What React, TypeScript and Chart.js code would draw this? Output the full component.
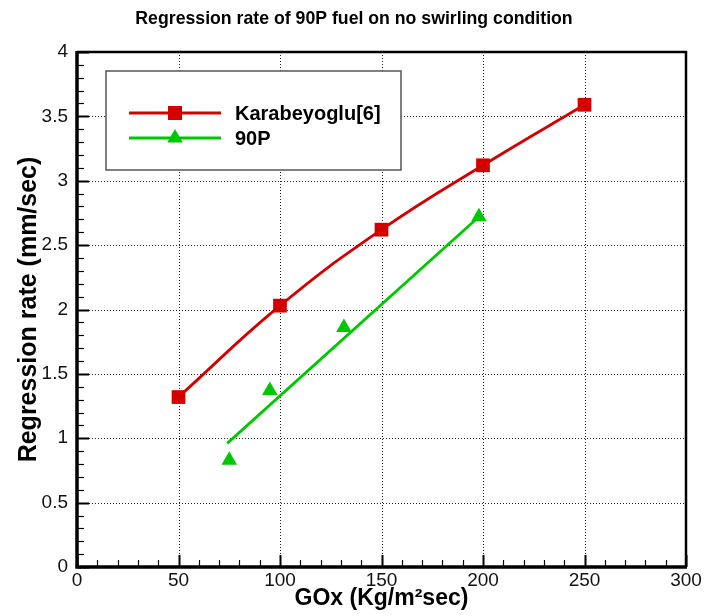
import React, { useEffect, useRef } from 'react';
import { Chart, registerables } from 'chart.js';

Chart.register(...registerables);

// ---- data ----
const karaLabel = 'Karabeyoglu[6]';
const karaX = [50, 100, 150, 200, 250];
const karaY = [1.32, 2.03, 2.62, 3.12, 3.59];

const p90Label = '90P';
const p90X = [75, 95, 131.5, 198];
const p90Y = [0.83, 1.37, 1.86, 2.72];

// linear fit line drawn through the 90P points
const fitX = [74, 198];
const fitY = [0.96, 2.72];

const xMin = 0;
const xMax = 300;
const xStep = 50;
const yMin = 0;
const yMax = 4;
const yStep = 0.5;

const titleText = 'Regression rate of 90P fuel on no swirling condition';
const xTitle = 'GOx (Kg/m\u00B2sec)';
const yTitle = 'Regression rate (mm/sec)';

const RED = '#d40000';
const GREEN = '#00c800';
const FONT = '"Liberation Sans", Arial, Helvetica, sans-serif';

const toPts = (xs: number[], ys: number[]) => xs.map((x, i) => ({ x, y: ys[i] }));

function drawSquare(ctx: CanvasRenderingContext2D, cx: number, cy: number, side: number, color: string) {
  ctx.fillStyle = color;
  ctx.fillRect(cx - side / 2, cy - side / 2, side, side);
}
function drawTriangle(ctx: CanvasRenderingContext2D, cx: number, cy: number, r: number, color: string) {
  ctx.fillStyle = color;
  ctx.beginPath();
  ctx.moveTo(cx, cy - r);
  ctx.lineTo(cx + r * Math.sin((2 * Math.PI) / 3), cy + r / 2);
  ctx.lineTo(cx - r * Math.sin((2 * Math.PI) / 3), cy + r / 2);
  ctx.closePath();
  ctx.fill();
}

const framePlugin = {
  id: 'framePlugin',
  beforeDatasetsDraw(chart: any) {
    const { ctx, chartArea: a, scales } = chart;
    const x = scales.x;
    const y = scales.y;
    ctx.save();
    ctx.strokeStyle = '#222';
    ctx.lineWidth = 1;
    ctx.setLineDash([1, 2]);
    x.ticks.forEach((t: any) => {
      if (t.value <= xMin || t.value >= xMax) return;
      const px = Math.round(x.getPixelForValue(t.value)) + 0.5;
      ctx.beginPath();
      ctx.moveTo(px, a.top);
      ctx.lineTo(px, a.bottom);
      ctx.stroke();
    });
    y.ticks.forEach((t: any) => {
      if (t.value <= yMin || t.value >= yMax) return;
      const py = Math.round(y.getPixelForValue(t.value)) + 0.5;
      ctx.beginPath();
      ctx.moveTo(a.left, py);
      ctx.lineTo(a.right, py);
      ctx.stroke();
    });
    ctx.restore();
  },
  afterDatasetsDraw(chart: any) {
    const { ctx, chartArea: a, scales, width } = chart;
    const x = scales.x;
    const y = scales.y;
    ctx.save();

    // chart title, centred on the whole canvas
    ctx.fillStyle = '#000';
    ctx.font = `bold 17.7px ${FONT}`;
    ctx.textAlign = 'center';
    ctx.textBaseline = 'middle';
    ctx.fillText(titleText, width / 2 + 2, 19.5);

    // legend box
    const bx = a.left + 29;
    const by = a.top + 19;
    const bw = 295;
    const bh = 99;
    ctx.fillStyle = '#fff';
    ctx.fillRect(bx, by, bw, bh);
    ctx.strokeStyle = '#555';
    ctx.lineWidth = 1.5;
    ctx.strokeRect(bx, by, bw, bh);

    const ds = chart.data.datasets;
    const entries = [
      { label: ds[0].label, color: RED, kind: 'square', yy: by + 42 },
      { label: ds[1].label, color: GREEN, kind: 'tri', yy: by + 67 },
    ];
    entries.forEach((e) => {
      ctx.strokeStyle = e.color;
      ctx.lineWidth = 2.8;
      ctx.beginPath();
      ctx.moveTo(bx + 23, e.yy);
      ctx.lineTo(bx + 115, e.yy);
      ctx.stroke();
      if (e.kind === 'square') drawSquare(ctx, bx + 69, e.yy, 14, e.color);
      else drawTriangle(ctx, bx + 69, e.yy, 9, e.color);
      ctx.fillStyle = '#000';
      ctx.font = `bold 20px ${FONT}`;
      ctx.textAlign = 'left';
      ctx.textBaseline = 'middle';
      ctx.fillText(e.label, bx + 129, e.yy + 1);
    });

    // inward ticks
    ctx.strokeStyle = '#000';
    const nx = Math.round((xMax - xMin) / 10);
    for (let i = 0; i <= nx; i++) {
      const v = xMin + i * 10;
      const major = i % 5 === 0;
      const px = Math.round(x.getPixelForValue(v)) + 0.5;
      ctx.lineWidth = major ? 2 : 1.2;
      ctx.beginPath();
      ctx.moveTo(px, a.bottom);
      ctx.lineTo(px, a.bottom - (major ? 12 : 7));
      ctx.stroke();
    }
    const ny = Math.round((yMax - yMin) / 0.1);
    for (let i = 0; i <= ny; i++) {
      const v = yMin + i * 0.1;
      const major = i % 5 === 0;
      const py = Math.round(y.getPixelForValue(v)) + 0.5;
      ctx.lineWidth = major ? 2 : 1.2;
      ctx.beginPath();
      ctx.moveTo(a.left, py);
      ctx.lineTo(a.left + (major ? 12 : 7), py);
      ctx.stroke();
    }

    // frame
    ctx.lineWidth = 2.5;
    ctx.beginPath();
    ctx.moveTo(a.left, a.top);
    ctx.lineTo(a.right, a.top);
    ctx.lineTo(a.right, a.bottom);
    ctx.stroke();
    ctx.lineWidth = 3.5;
    ctx.beginPath();
    ctx.moveTo(a.left, a.top - 1);
    ctx.lineTo(a.left, a.bottom);
    ctx.lineTo(a.right + 1, a.bottom);
    ctx.stroke();

    ctx.restore();
  },
};

export default function App() {
  const ref = useRef<HTMLCanvasElement | null>(null);

  useEffect(() => {
    if (!ref.current) return;
    Chart.defaults.font.family = FONT;
    const chart = new Chart(ref.current, {
      type: 'scatter',
      data: {
        datasets: [
          {
            label: karaLabel,
            data: toPts(karaX, karaY),
            showLine: true,
            borderColor: RED,
            backgroundColor: RED,
            borderWidth: 2.8,
            pointStyle: 'rect',
            pointRadius: 9.7,
            pointBorderWidth: 0,
            tension: 0.45,
          },
          {
            label: p90Label,
            data: toPts(p90X, p90Y),
            showLine: false,
            borderColor: GREEN,
            backgroundColor: GREEN,
            pointStyle: 'triangle',
            pointRadius: 9,
            pointBorderWidth: 0,
          },
          {
            label: '90P fit',
            data: toPts(fitX, fitY),
            showLine: true,
            borderColor: GREEN,
            backgroundColor: GREEN,
            borderWidth: 2.8,
            pointRadius: 0,
          },
        ],
      } as any,
      options: {
        animation: false,
        responsive: false,
        devicePixelRatio: 1,
        layout: { padding: { top: 52, right: 18, bottom: 0, left: 0 } },
        plugins: {
          legend: { display: false },
          tooltip: { enabled: false },
          title: { display: false },
        },
        scales: {
          x: {
            type: 'linear',
            min: xMin,
            max: xMax,
            ticks: {
              stepSize: xStep,
              color: '#111',
              font: { size: 19 },
              padding: 2,
              maxRotation: 0,
              callback: (v: any) => String(+v),
            },
            grid: { display: false, drawTicks: false },
            border: { display: false },
            title: {
              display: true,
              text: xTitle,
              color: '#000',
              font: { size: 23, weight: 'bold', lineHeight: 1.2 },
              padding: { top: 0, bottom: 4 },
            },
            afterFit: (s: any) => {
              s.height = 49;
            },
          },
          y: {
            type: 'linear',
            min: yMin,
            max: yMax,
            ticks: {
              stepSize: yStep,
              color: '#111',
              font: { size: 19 },
              padding: 9,
              callback: (v: any) => String(+v),
            },
            grid: { display: false, drawTicks: false },
            border: { display: false },
            title: {
              display: true,
              text: yTitle,
              color: '#000',
              font: { size: 25, weight: 'bold', lineHeight: 1.2 },
              padding: { top: 14, bottom: 0 },
            },
            afterFit: (s: any) => {
              s.width = 77;
            },
          },
        },
      } as any,
      plugins: [framePlugin],
    });
    return () => chart.destroy();
  }, []);

  return (
    <div style={{ position: 'absolute', left: 0, top: 0, width: 704, height: 616, background: '#fff' }}>
      <canvas ref={ref} width={704} height={616} style={{ display: 'block' }} />
    </div>
  );
}
